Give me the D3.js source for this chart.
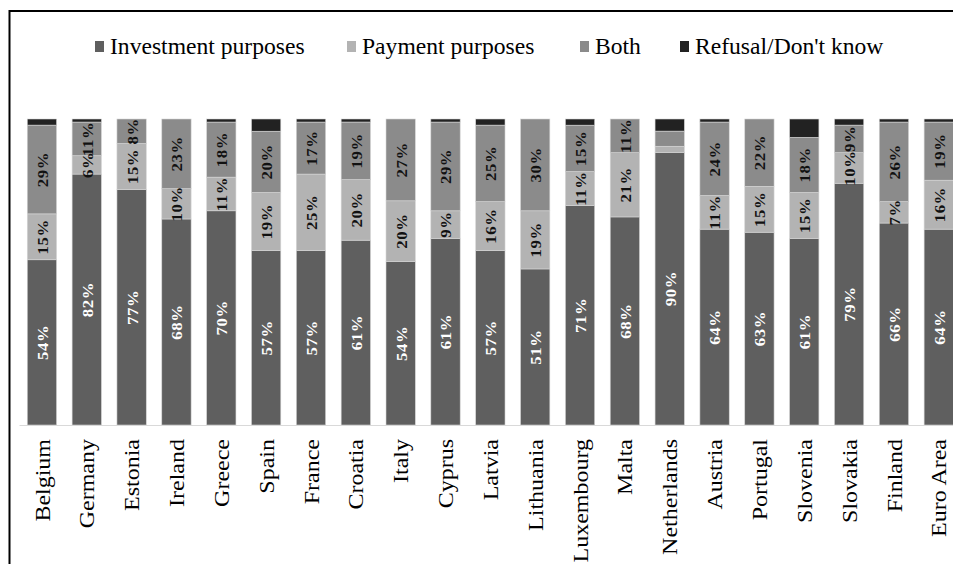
<!DOCTYPE html>
<html>
<head>
<meta charset="utf-8">
<script src="https://cdn.jsdelivr.net/npm/d3@7"></script>
<style>
  html, body { margin: 0; padding: 0; background: #fff; }
  svg { display: block; }
</style>
</head>
<body>
<svg id="chart" width="953" height="564"></svg>
<script>
// Survey shares by country (percent of respondents)
const categories = ["Belgium", "Germany", "Estonia", "Ireland", "Greece", "Spain", "France",
  "Croatia", "Italy", "Cyprus", "Latvia", "Lithuania", "Luxembourg", "Malta", "Netherlands",
  "Austria", "Portugal", "Slovenia", "Slovakia", "Finland", "Euro Area"];
const investment = [54, 82, 77, 68, 70, 57, 57, 61, 54, 61, 57, 51, 71, 68, 90, 64, 63, 61, 79, 66, 64];
const payment    = [15,  6, 15, 10, 11, 19, 25, 20, 20,  9, 16, 19, 11, 21,  2, 11, 15, 15, 10,  7, 16];
const both       = [29, 11,  8, 23, 18, 20, 17, 19, 27, 29, 25, 30, 15, 11,  5, 24, 22, 18,  9, 26, 19];
const refusal    = [ 2,  1,  0,  0,  1,  4,  1,  1,  0,  1,  2,  0,  2,  0,  4,  1,  0,  6,  2,  1,  1];

const seriesNames = ["Investment purposes", "Payment purposes", "Both", "Refusal/Don't know"];
const seriesKeys = ["investment", "payment", "both", "refusal"];
const colors = ["#5f5f5f", "#b3b3b3", "#8b8b8b", "#222222"];
const labelColors = ["#ffffff", "#111111", "#111111", null];

const FONT = "'Liberation Serif', Tinos, 'Times New Roman', 'DejaVu Serif', serif";

const rows = categories.map((c, i) => ({
  category: c,
  investment: investment[i],
  payment: payment[i],
  both: both[i],
  refusal: refusal[i]
}));

const svg = d3.select("#chart").attr("font-family", FONT);

// frame
svg.append("line").attr("x1", 9.5).attr("x2", 953).attr("y1", 11).attr("y2", 11)
  .attr("stroke", "#000").attr("stroke-width", 2);
svg.append("line").attr("x1", 9.5).attr("x2", 9.5).attr("y1", 10).attr("y2", 564)
  .attr("stroke", "#000").attr("stroke-width", 2);

const x = d3.scaleBand().domain(categories).range([19.5, 961.2]).paddingInner(0.346).paddingOuter(0.173);
const y = d3.scaleLinear().domain([0, 1]).range([425, 119]);

const stack = d3.stack().keys(seriesKeys).offset(d3.stackOffsetExpand);
const stacked = stack(rows);

const layers = svg.append("g").selectAll("g")
  .data(stacked)
  .join("g")
  .attr("fill", (d, i) => colors[i]);

layers.selectAll("rect")
  .data(d => d)
  .join("rect")
  .attr("x", d => x(d.data.category))
  .attr("width", x.bandwidth())
  .attr("y", d => y(d[1]))
  .attr("height", d => Math.max(0, y(d[0]) - y(d[1])))
  .attr("stroke", "#d6d6d6")
  .attr("stroke-width", 0.6);

// baseline
svg.append("line").attr("x1", 19.5).attr("x2", 953).attr("y1", 425.5).attr("y2", 425.5)
  .attr("stroke", "#d9d9d9").attr("stroke-width", 1.2);

// value labels, rotated inside segments
stacked.forEach((layer, si) => {
  if (!labelColors[si]) return;
  const g = svg.append("g");
  layer.forEach(d => {
    const v = d.data[seriesKeys[si]];
    if (v < 6) return;
    const cx = x(d.data.category) + x.bandwidth() / 2;
    const cy = (y(d[0]) + y(d[1])) / 2;
    g.append("text")
      .attr("transform", `translate(${cx + 1},${cy}) rotate(-90) scale(1.2,1)`)
      .attr("text-anchor", "middle")
      .attr("dy", "0.35em")
      .attr("font-family", FONT)
      .attr("font-size", 14)
      .attr("font-weight", "bold")
      .attr("letter-spacing", 0.5)
      .attr("fill", labelColors[si])
      .text(v + "%");
  });
});

// category axis labels
const xAxis = svg.append("g");
categories.forEach(c => {
  xAxis.append("text")
    .attr("transform", `translate(${x(c) + x.bandwidth() / 2 + 1},439) rotate(-90) scale(1.2,1)`)
    .attr("text-anchor", "end")
    .attr("dy", "0.33em")
    .attr("font-family", FONT)
    .attr("font-size", 20)
    .attr("fill", "#000")
    .text(c);
});

// legend
const legendX = [95, 347, 580, 680];
const legend = svg.append("g");
seriesNames.forEach((name, i) => {
  legend.append("rect")
    .attr("x", legendX[i]).attr("y", 41)
    .attr("width", 9).attr("height", 11)
    .attr("fill", colors[i]);
  legend.append("text")
    .attr("transform", `translate(${legendX[i] + 15},54) scale(1.18,1.15)`)
    .attr("font-family", FONT)
    .attr("font-size", 20)
    .attr("fill", "#000")
    .text(name);
});
</script>
</body>
</html>
